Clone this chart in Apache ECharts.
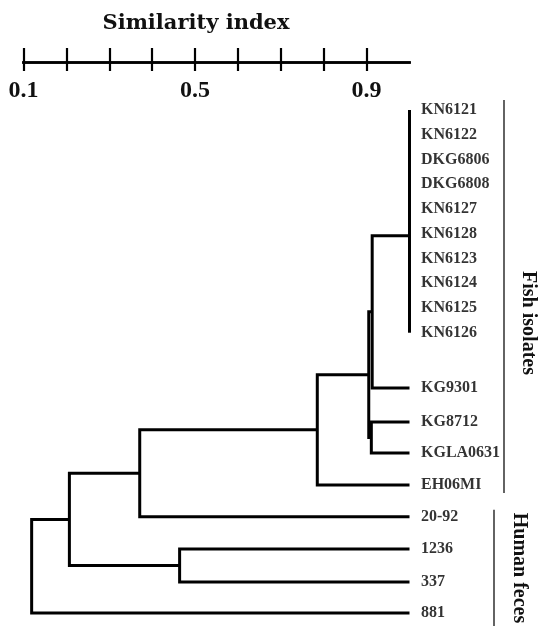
<!DOCTYPE html>
<html><head><meta charset="utf-8">
<script src="https://cdn.jsdelivr.net/npm/echarts@6/dist/echarts.min.js"></script>
<style>html,body{margin:0;padding:0;background:#fff}#c{width:546px;height:626px}</style>
</head><body><div id="c"></div>
<script>
// ---------- data ----------
const titleText = 'Similarity index';
const tickValues = [0.1, 0.2, 0.3, 0.4, 0.5, 0.6, 0.7, 0.8, 0.9];
const tickLabels = [0.1, 0.5, 0.9];
const leafNames = ['KN6121','KN6122','DKG6806','DKG6808','KN6127','KN6128','KN6123','KN6124','KN6125','KN6126','KG9301','KG8712','KGLA0631','EH06MI','20-92','1236','337','881'];
const leafRows  = [1, 2, 3, 4, 5, 6, 7, 8, 9, 10, 12.23, 13.61, 14.86, 16.15, 17.44, 18.74, 20.07, 21.32];
const leafSim = 1.0;
// merges: node id = leafNames.length + index
const mergeA   = [0, 18, 19, 4, 21, 22, 23, 24, 20, 26, 11, 27, 29, 30, 15, 31, 33];
const mergeB   = [1, 2, 3, 5, 6, 7, 8, 9, 25, 10, 12, 28, 13, 14, 16, 32, 17];
const mergeSim = [1, 1, 1, 1, 1, 1, 1, 1, 1, 0.913, 0.911, 0.905, 0.785, 0.371, 0.464, 0.207, 0.119];
const groupNames = ['Fish isolates', 'Human feces'];
const groupFirst = ['KN6121', '20-92'];
const groupLast  = ['EH06MI', '881'];

// ---------- build ----------
const nodeSim = leafNames.map(() => leafSim);
const nodeRow = leafRows.slice();
const segs = [];
mergeA.forEach((a, k) => {
  const b = mergeB[k], s = mergeSim[k];
  const pts = [[nodeSim[a], nodeRow[a]], [s, nodeRow[a]], [s, nodeRow[b]], [nodeSim[b], nodeRow[b]]];
  const clean = pts.filter((p, i) => i === 0 || p[0] !== pts[i - 1][0] || p[1] !== pts[i - 1][1]);
  segs.push({ coords: clean });
  nodeSim.push(s);
  nodeRow.push((nodeRow[a] + nodeRow[b]) / 2);
});

const chart = echarts.init(document.getElementById('c'), null, { renderer: 'canvas' });
const axisBase = {
  type: 'value', position: 'top', min: 0.1, max: 1.0, offset: 35.6,
  axisLine: { show: true, lineStyle: { color: '#000', width: 2.6, cap: 'square' } },
  splitLine: { show: false }
};
chart.setOption({
  animation: false,
  backgroundColor: '#fff',
  title: {
    text: titleText, left: 191, top: 8, textAlign: 'center',
    textStyle: { fontFamily: 'DejaVu Serif', fontWeight: 'bold', fontSize: 21, color: '#111' }
  },
  grid: { left: 23.5, width: 386, top: 97.6, height: 528.4, outerBoundsMode: 'none', containLabel: false },
  xAxis: [
    Object.assign({}, axisBase, {
      axisTick: { show: true, inside: false, length: 14, customValues: tickValues, lineStyle: { color: '#000', width: 2.2 } },
      axisLabel: { show: false }
    }),
    Object.assign({}, axisBase, {
      axisTick: { show: true, inside: true, length: 9, customValues: tickValues, lineStyle: { color: '#000', width: 2.2 } },
      axisLabel: {
        show: true, inside: true, margin: 17, customValues: tickLabels,
        formatter: v => v.toFixed(1),
        fontFamily: 'Liberation Serif', fontWeight: 'bold', fontSize: 24, color: '#111'
      }
    })
  ],
  yAxis: { type: 'value', inverse: true, min: 0.5, max: 21.85, show: false },
  series: [
    {
      type: 'lines', coordinateSystem: 'cartesian2d', polyline: true, clip: false, silent: true,
      lineStyle: { color: '#000', width: 3, opacity: 1, cap: 'butt', join: 'miter' },
      data: segs
    },
    {
      type: 'scatter', clip: false, silent: true, symbolSize: 1,
      itemStyle: { color: 'rgba(0,0,0,0)' },
      label: {
        show: true, position: 'right', distance: 11,
        formatter: p => p.data[2],
        fontFamily: 'Liberation Serif', fontWeight: 'bold', fontSize: 16, color: '#000'
      },
      data: leafNames.map((n, i) => [leafSim, leafRows[i], n])
    }
  ]
});

const yOf = name => chart.convertToPixel({ gridIndex: 0 }, [leafSim, leafRows[leafNames.indexOf(name)]])[1];
const bracketX = [504, 494];
const padTop = [10, 7];
const padBottom = [8, 16];
const labelX = [528, 519];
const labelY = [323, 568];
const g = [];
groupNames.forEach((nm, i) => {
  g.push({
    type: 'line', silent: true,
    shape: { x1: bracketX[i], y1: yOf(groupFirst[i]) - padTop[i], x2: bracketX[i], y2: yOf(groupLast[i]) + padBottom[i] },
    style: { stroke: '#222', lineWidth: 1.4 }
  });
  g.push({
    type: 'text', silent: true, x: labelX[i], y: labelY[i], rotation: -Math.PI / 2,
    style: { text: nm, x: 0, y: 0, align: 'center', verticalAlign: 'middle',
      font: 'bold 20px "Liberation Serif"', fill: '#111' }
  });
});
chart.setOption({ graphic: g });
</script>
</body></html>
